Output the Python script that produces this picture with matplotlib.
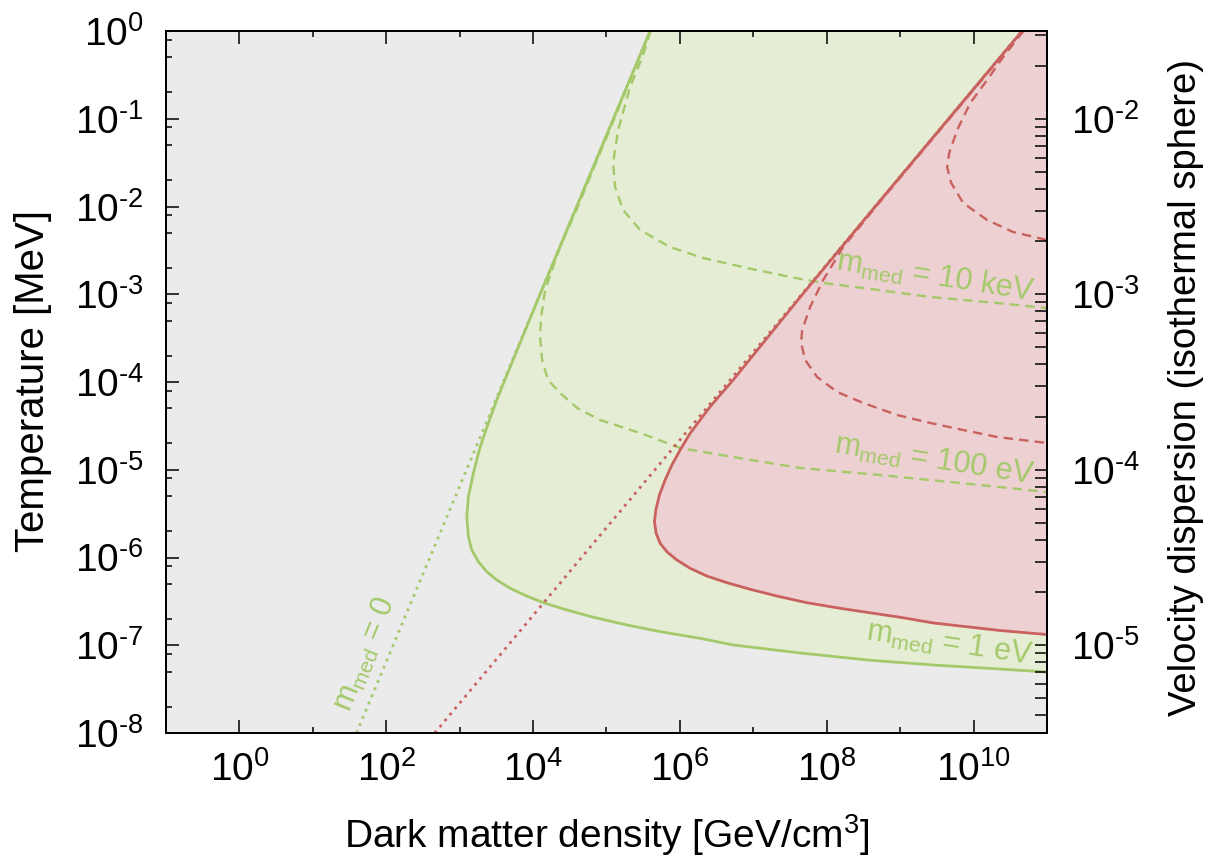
import numpy as np
import matplotlib
matplotlib.use('Agg')
import matplotlib.pyplot as plt
from matplotlib.ticker import FixedLocator, FuncFormatter, LogLocator, NullFormatter

# curves, stored as log10 values
# m_med = 0 (green dotted) and the red dotted asymptote
g0_logrho = [1.594, 5.594]
g0_logT = [-8.0, 0.0]
r0_logrho = [2.66, 10.66]
r0_logT = [-8.0, 0.0]

# green, m_med = 1 eV (solid boundary)
g1_logT = [0.0, -1.0, -2.0, -3.0, -3.977, -4.205, -4.467, -4.741, -5.037, -5.307,
           -5.538, -5.763, -5.915, -6.048, -6.162, -6.256, -6.351, -6.439, -6.515,
           -6.598, -6.681, -6.769, -6.845, -6.921, -6.997, -7.088, -7.168, -7.225,
           -7.271, -7.305]
g1_logrho = [5.594, 5.094, 4.594, 4.095, 3.615, 3.505, 3.391, 3.278, 3.187, 3.119,
             3.097, 3.119, 3.165, 3.255, 3.369, 3.505, 3.687, 3.914, 4.140,
             4.459, 4.822, 5.277, 5.730, 6.275, 6.725, 7.638, 8.550, 9.450,
             10.362, 11.0]

# green, m_med = 100 eV (dashed)
g2_logT = [0.0, -1.0, -2.0, -2.462, -2.644, -2.952, -3.259, -3.487, -3.749, -3.977,
           -4.125, -4.296, -4.433, -4.581, -4.752, -4.855, -4.980, -5.060, -5.174, -5.254]
g2_logrho = [5.60, 5.105, 4.61, 4.368, 4.29, 4.164, 4.109, 4.095, 4.123, 4.204,
             4.368, 4.600, 4.913, 5.458, 6.003, 6.725, 7.638, 8.728, 10.090, 11.0]

# green, m_med = 10 keV (dashed)
g3_logT = [0.0, -0.274, -0.638, -1.128, -1.504, -1.778, -2.040, -2.268, -2.462, -2.587,
           -2.701, -2.803, -2.872, -2.929, -3.031, -3.100, -3.157]
g3_logrho = [5.60, 5.499, 5.322, 5.158, 5.090, 5.117, 5.226, 5.458, 5.866, 6.316,
             6.916, 7.501, 7.951, 8.496, 9.409, 10.322, 11.0]

# red solid boundary
r1_logT = [0.0, -1.0, -2.0, -3.0, -3.977, -4.148, -4.282, -4.433, -4.585, -4.775,
           -4.946, -5.117, -5.288, -5.459, -5.592, -5.724, -5.838, -5.934, -6.028,
           -6.123, -6.211, -6.287, -6.362, -6.439, -6.515, -6.579, -6.636, -6.681,
           -6.746, -6.832, -6.878]
r1_logrho = [10.66, 9.66, 8.66, 7.67, 6.725, 6.548, 6.411, 6.275, 6.139, 6.003,
             5.890, 5.798, 5.721, 5.672, 5.653, 5.676, 5.730, 5.822, 5.958,
             6.139, 6.366, 6.639, 6.956, 7.320, 7.729, 8.183, 8.636, 9.0,
             9.450, 10.362, 11.0]

# red dashed (middle)
r2_logT = [0.0, -1.0, -2.0, -2.462, -2.838, -3.145, -3.407, -3.556, -3.749, -3.943,
           -4.114, -4.239, -4.376, -4.467, -4.547, -4.627, -4.695]
r2_logrho = [10.67, 9.67, 8.672, 8.223, 7.951, 7.774, 7.665, 7.651, 7.706, 7.869,
             8.142, 8.496, 8.959, 9.409, 9.858, 10.322, 11.0]

# red dashed (upper)
r3_logT = [0.0, -0.296, -0.558, -0.821, -1.128, -1.390, -1.550, -1.732, -1.960,
           -2.154, -2.291, -2.382]
r3_logrho = [10.68, 10.403, 10.185, 9.954, 9.777, 9.668, 9.640, 9.695, 9.858,
             10.185, 10.540, 11.0]

x_ticks = [0, 2, 4, 6, 8, 10]
y_ticks = [-8, -7, -6, -5, -4, -3, -2, -1, 0]

plt.rcParams['font.family'] = ['Liberation Sans', 'DejaVu Sans']
plt.rcParams['mathtext.default'] = 'regular'

colors = {
    'bg': '#ebebeb',
    'green': '#a4c96b',
    'green_fill': '#e5edd4',
    'red': '#c9615f',
    'red_fill': '#edd0d1',
}

X_LO, X_HI = 1e-1, 1e11
T_LO, T_HI = 1e-8, 1.0

fig = plt.figure(figsize=(12.05, 8.57), dpi=100)
ax = fig.add_axes([166 / 1205, 124 / 857, 881 / 1205, 702 / 857])
ax.set_facecolor(colors['bg'])
ax.set_xscale('log')
ax.set_yscale('log')
ax.set_xlim(X_LO, X_HI)
ax.set_ylim(T_LO, T_HI)


def p(a):
    return 10.0 ** np.asarray(a, dtype=float)


# shaded regions
ax.fill_betweenx(p(g1_logT), p(g1_logrho), X_HI, color=colors['green_fill'], lw=0, zorder=1)
ax.fill_betweenx(p(r1_logT), p(r1_logrho), X_HI, color=colors['red_fill'], lw=0, zorder=2)

dotted = (0, (1.0, 1.8))
dashed = (0, (4.0, 2.6))
solid_kw = dict(lw=2.0, solid_joinstyle='round')

# green family
ax.plot(p(g0_logrho), p(g0_logT), color=colors['green'], lw=2.0, ls=dotted,
        dash_capstyle='butt', zorder=3)
ax.plot(p(g2_logrho), p(g2_logT), color=colors['green'], lw=1.7, ls=dashed, zorder=3)
ax.plot(p(g3_logrho), p(g3_logT), color=colors['green'], lw=1.7, ls=dashed, zorder=3)
ax.plot(p(g1_logrho), p(g1_logT), color=colors['green'], zorder=4, **solid_kw)

# red family
ax.plot(p(r0_logrho), p(r0_logT), color=colors['red'], lw=2.0, ls=dotted,
        dash_capstyle='butt', zorder=5)
ax.plot(p(r2_logrho), p(r2_logT), color=colors['red'], lw=1.7, ls=dashed, zorder=5)
ax.plot(p(r3_logrho), p(r3_logT), color=colors['red'], lw=1.7, ls=dashed, zorder=5)
ax.plot(p(r1_logrho), p(r1_logT), color=colors['red'], zorder=6, **solid_kw)

# curve labels
lab_kw = dict(color=colors['green'], fontsize=22, ha='left', va='baseline',
              rotation_mode='anchor', zorder=7)
ax.text(10 ** 8.114, 10 ** -2.724, '$m_{med}$ = 10 keV', rotation=-9, **lab_kw)
ax.text(10 ** 8.087, 10 ** -4.809, '$m_{med}$ = 100 eV', rotation=-9, **lab_kw)
ax.text(10 ** 8.523, 10 ** -6.940, '$m_{med}$ = 1 eV', rotation=-8.5, **lab_kw)
ax.text(10 ** 1.507, 10 ** -7.772, '$m_{med}$ = 0', rotation=68, **lab_kw)


def exp_label(v, _):
    e = int(round(np.log10(v)))
    s = str(abs(e)) if e >= 0 else '\u2010' + str(abs(e))
    return '$10^{%s}$' % s


fmt = FuncFormatter(exp_label)

ax.xaxis.set_major_locator(FixedLocator(p(x_ticks)))
ax.xaxis.set_minor_locator(FixedLocator(p(np.array(x_ticks) + 1)))
ax.xaxis.set_major_formatter(fmt)
ax.xaxis.set_minor_formatter(NullFormatter())
ax.yaxis.set_major_locator(FixedLocator(p(y_ticks)))
ax.yaxis.set_minor_locator(LogLocator(base=10.0, subs=(2.0, 5.0, 8.0), numticks=30))
ax.yaxis.set_major_formatter(fmt)
ax.yaxis.set_minor_formatter(NullFormatter())

ax.tick_params(which='both', direction='in', top=True, right=False, width=1.1,
               color='black', labelsize=28)
ax.tick_params(which='major', length=9.4)
ax.tick_params(which='minor', length=4.6)
ax.tick_params(axis='y', pad=16)
ax.tick_params(axis='x', pad=13)

# velocity dispersion axis: T = (1 GeV) * v^2
ax2 = ax.twinx()
ax2.set_yscale('log')
ax2.set_ylim(np.sqrt(T_LO / 1e3), np.sqrt(T_HI / 1e3))
ax2.yaxis.set_major_locator(LogLocator(base=10.0, numticks=20))
ax2.yaxis.set_minor_locator(LogLocator(base=10.0, subs=np.arange(2, 10), numticks=20))
ax2.yaxis.set_major_formatter(fmt)
ax2.yaxis.set_minor_formatter(NullFormatter())
ax2.tick_params(which='both', direction='in', width=1.1, labelsize=28, pad=17)
ax2.tick_params(which='major', length=8.6)
ax2.tick_params(which='minor', length=8.6)

for a in (ax, ax2):
    for s in a.spines.values():
        s.set_linewidth(1.4)

fig.text(606.5 / 1205, 1 - 848 / 857, 'Dark matter density [GeV/cm$^3$]',
         ha='center', va='baseline', fontsize=28)
fig.text(33 / 1205, 1 - 381 / 857, 'Temperature [MeV]', rotation=90,
         ha='center', va='center', fontsize=29)
fig.text(1186 / 1205, 1 - 388 / 857, 'Velocity dispersion (isothermal sphere)',
         rotation=90, ha='center', va='center', fontsize=27.5)

fig.savefig('out.png', dpi=100, facecolor='white')
plt.close(fig)
